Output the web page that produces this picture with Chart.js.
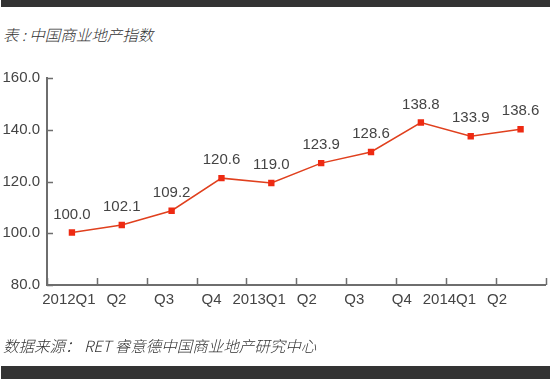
<!DOCTYPE html>
<html>
<head>
<meta charset="utf-8">
<script src="https://cdn.jsdelivr.net/npm/chart.js@4.4.1/dist/chart.umd.min.js"></script>
<style>
  html, body { margin: 0; padding: 0; background: #fff; }
  #wrap { position: relative; width: 550px; height: 379px; overflow: hidden; }
  #topbar { position: absolute; left: 1px; top: 0; width: 549px; height: 7px; background: #333; }
  #botbar { position: absolute; left: 1px; top: 366px; width: 549px; height: 13px; background: #333; }
  #title { position: absolute; left: 3px; top: 23px; font: italic 300 15.5px "Noto Sans CJK SC", sans-serif; color: #333; white-space: nowrap; }
  #source { position: absolute; left: 3px; top: 334px; font: italic 300 15.5px "Noto Sans CJK SC", sans-serif; color: #333; white-space: nowrap; }
  #c { position: absolute; left: 0; top: 0; }
</style>
</head>
<body>
<div id="wrap">
  <div id="topbar"></div>
  <div id="title">表 : 中国商业地产指数</div>
  <canvas id="c" width="550" height="379"></canvas>
  <div id="source">数据来源： RET 睿意德中国商业地产研究中心</div>
  <div id="botbar"></div>
</div>
<script>
// Categories (quarters)
const categories = ['2012Q1', 'Q2', 'Q3', 'Q4', '2013Q1', 'Q2', 'Q3', 'Q4', '2014Q1', 'Q2'];
// Plotted positions
const values = [100.3, 103.2, 108.7, 121.3, 119.4, 127.1, 131.4, 142.8, 137.5, 140.2];
// Printed data labels
const valueLabels = ['100.0', '102.1', '109.2', '120.6', '119.0', '123.9', '128.6', '138.8', '133.9', '138.6'];
// Y axis tick values
const yTicks = [80, 100, 120, 140, 160];

const FONT = '"Liberation Sans", Arial, sans-serif';
const TEXT = '#444444';
const AXIS = '#6e6e6e';

const inwardTicks = {
  id: 'inwardTicks',
  afterDraw(chart) {
    const ctx = chart.ctx;
    const x = chart.scales.x, y = chart.scales.y;
    const area = chart.chartArea;
    ctx.save();
    ctx.strokeStyle = AXIS;
    ctx.lineWidth = 1.5;
    ctx.beginPath();
    for (let i = 0; i <= categories.length; i++) {
      const px = Math.round(x.getPixelForValue(i - 0.5)) + 0.5;
      ctx.moveTo(px, area.bottom);
      ctx.lineTo(px, area.bottom - 7);
    }
    yTicks.forEach(v => {
      const py = Math.round(y.getPixelForValue(v)) + 0.5;
      ctx.moveTo(area.left, py);
      ctx.lineTo(area.left + 6, py);
    });
    ctx.stroke();
    // data labels
    const meta = chart.getDatasetMeta(0);
    ctx.fillStyle = TEXT;
    ctx.font = '15px ' + FONT;
    ctx.textAlign = 'center';
    ctx.textBaseline = 'middle';
    meta.data.forEach((pt, i) => {
      ctx.fillText(valueLabels[i], pt.x, pt.y - 18);
    });
    ctx.restore();
  }
};

new Chart(document.getElementById('c'), {
  type: 'line',
  data: {
    labels: categories,
    datasets: [{
      data: values,
      borderColor: '#e0401e',
      borderWidth: 1.5,
      backgroundColor: '#ee2a12',
      pointBackgroundColor: '#ee2a12',
      pointBorderColor: '#ee2a12',
      pointStyle: 'rect',
      pointRadius: 4.5,
      pointBorderWidth: 0,
      tension: 0,
      fill: false
    }]
  },
  options: {
    responsive: false,
    animation: false,
    devicePixelRatio: 1,
    layout: { padding: { left: 0, right: 1, top: 78, bottom: 0 } },
    plugins: { legend: { display: false }, tooltip: { enabled: false }, title: { display: false } },
    scales: {
      x: {
        type: 'category',
        position: 'bottom',
        offset: true,
        grid: { display: false, drawTicks: false },
        border: { display: true, color: AXIS, width: 2 },
        ticks: { display: false },
        afterFit(s) { s.height = 0; }
      },
      x2: {
        type: 'linear',
        position: 'bottom',
        min: -0.46,
        max: 10.02,
        grid: { display: false, drawTicks: false },
        border: { display: false },
        afterBuildTicks(s) { s.ticks = categories.map((c, i) => ({ value: i })); },
        ticks: {
          autoSkip: false,
          maxRotation: 0,
          padding: 6,
          color: TEXT,
          font: { family: FONT, size: 15 },
          callback: (v) => categories[v]
        },
        afterFit(s) { s.height = 94; }
      },
      y: {
        type: 'linear',
        min: 80,
        max: 160,
        grid: { display: false, drawTicks: false },
        border: { display: true, color: AXIS, width: 2 },
        afterBuildTicks(s) { s.ticks = yTicks.map(v => ({ value: v })); },
        ticks: {
          padding: 7,
          color: TEXT,
          font: { family: FONT, size: 15 },
          callback: (v) => Number(v).toFixed(1)
        },
        afterFit(s) { s.width = 47; }
      }
    }
  },
  plugins: [inwardTicks]
});
</script>
</body>
</html>
